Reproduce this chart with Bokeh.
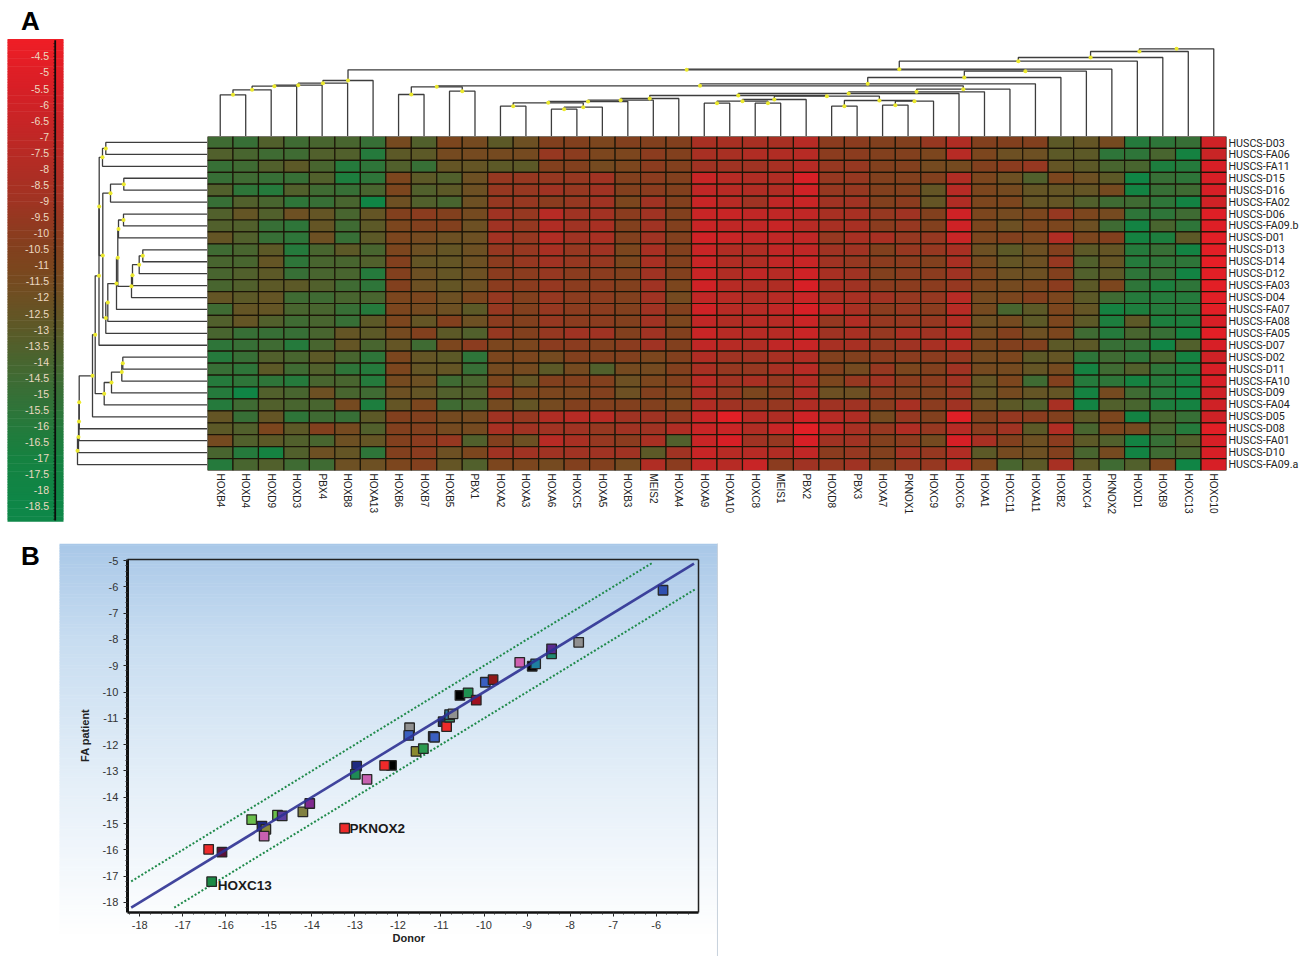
import math
import numpy as np
from bokeh.embed import file_html
from bokeh.resources import INLINE
from bokeh.layouts import row, column
from bokeh.plotting import figure
from bokeh.models import (ColumnDataSource, FactorRange, Range1d, LinearColorMapper, LinearAxis,
                          SingleIntervalTicker, FixedTicker)
from bokeh.core.properties import value
from bokeh.transform import transform

# ---------------------------------------------------------------- panel A data
genes = ["HOXB4","HOXD4","HOXD9","HOXD3","PBX4","HOXB8","HOXA13","HOXB6","HOXB7","HOXB5","PBX1","HOXA2","HOXA3",
         "HOXA6","HOXC5","HOXA5","HOXB3","MEIS2","HOXA4","HOXA9","HOXA10","HOXC8","MEIS1","PBX2","HOXD8","PBX3",
         "HOXA7","PKNOX1","HOXC9","HOXC6","HOXA1","HOXC11","HOXA11","HOXB2","HOXC4","PKNOX2","HOXD1","HOXB9",
         "HOXC13","HOXC10"]
samples = ["HUSCS-D03","HUSCS-FA06","HUSCS-FA11","HUSCS-D15","HUSCS-D16","HUSCS-FA02","HUSCS-D06","HUSCS-FA09.b",
           "HUSCS-D01","HUSCS-D13","HUSCS-D14","HUSCS-D12","HUSCS-FA03","HUSCS-D04","HUSCS-FA07","HUSCS-FA08",
           "HUSCS-FA05","HUSCS-D07","HUSCS-D02","HUSCS-D11","HUSCS-FA10","HUSCS-D09","HUSCS-FA04","HUSCS-D05",
           "HUSCS-D08","HUSCS-FA01","HUSCS-D10","HUSCS-FA09.a"]

D03 = [-14.5,-15,-13.5,-14.5,-14,-14,-15,-11.5,-13.5,-11,-11.5,-13,-12,-10.5,-10.5,-11,-10.5,-10.5,-10.5,-8.5,-8.5,-8.5,-8.5,-7.5,-10,-10,-10.5,-10.5,-9.5,-8,-10.5,-10.5,-10.5,-13,-12.5,-11.5,-16,-15.5,-15,-6]
FA06 = [-13.5,-14,-14.5,-14.5,-13.5,-13.5,-16,-13,-13,-11.5,-11.5,-11.5,-11.5,-9.5,-10,-11,-11,-10,-10.5,-8.5,-8.5,-8,-8,-7.5,-10,-10,-10.5,-10.5,-11,-7.5,-11,-12,-12,-13,-13,-15.5,-15.5,-14,-17,-6.5]
FA11 = [-15,-14.5,-13.5,-13,-14,-16,-15.5,-13.5,-15,-12.5,-12.5,-13,-13,-10.5,-10.5,-11.5,-11,-10,-10.5,-9,-9,-9,-8.5,-7.5,-9.5,-9.5,-10.5,-10.5,-11.5,-11.5,-10.5,-10,-9.5,-12.5,-13,-14,-14,-16.5,-16,-5.5]
D15 = [-15,-14.5,-15,-15,-13.5,-16.5,-15.5,-11,-13,-13.5,-12,-9.5,-9.5,-9.5,-9.5,-9,-10.5,-10,-10.5,-6.5,-7.5,-8,-8,-5.5,-9.5,-9.5,-10.5,-10.5,-10.5,-8,-11,-12,-13.5,-11,-12,-13,-18,-15,-15.5,-5.5]
D16 = [-13.5,-15.5,-16,-13.5,-14.5,-15,-14,-11,-13.5,-13,-12,-9.5,-9.5,-9,-9.5,-9,-10.5,-10,-10.5,-7,-7.5,-8,-8,-6,-9.5,-9.5,-10.5,-10.5,-12.5,-7.5,-11,-11.5,-12.5,-12.5,-12.5,-11.5,-17.5,-15,-14.5,-5.5]
FA02 = [-15,-13.5,-14,-15.5,-15,-14,-18,-12,-13.5,-14,-12,-9.5,-9.5,-10,-9.5,-9,-11,-9,-10.5,-6.5,-7.5,-9,-7,-6.5,-9,-9,-10.5,-10,-12.5,-8,-11,-11,-12.5,-12.5,-13.5,-14.5,-14.5,-15.5,-17.5,-6]
D06 = [-13.5,-12.5,-13.5,-12,-12.5,-14,-12.5,-10.5,-10,-10.5,-11.5,-9,-9.5,-7.5,-9,-8.8,-10,-9,-10.5,-6.5,-6.5,-7,-7,-7,-8.5,-8.5,-9.5,-9,-10.5,-6,-11,-11.5,-11,-9.5,-11,-11.5,-15.5,-15.5,-14.5,-5]
FA09b = [-13.5,-13.5,-15,-15.5,-12.5,-14.5,-13,-11,-10.5,-10.5,-12,-9,-9.5,-8,-9,-8.5,-10.5,-9,-10.5,-6.5,-7,-7,-6.5,-7.5,-8.5,-8.5,-10,-9.5,-10.5,-6,-11,-12,-11,-11,-12,-14.5,-17.5,-14,-15.5,-5]
D01 = [-12.5,-13.5,-15,-15.5,-12,-15,-13,-11,-11.5,-12,-12,-8.8,-9.5,-8,-9,-8.5,-10.5,-9,-10.5,-6,-6.5,-7,-7,-7,-9.5,-8.5,-8.5,-9.5,-9.5,-6.5,-11,-10.5,-11,-8,-11,-10.5,-17,-16.5,-13,-4.8]
D13 = [-14.5,-14,-13,-16,-14,-13,-14,-11,-12,-12.5,-12,-9.5,-9.5,-8.5,-9.5,-9,-11,-8.5,-10.5,-6.5,-8,-8,-7,-7,-9,-9,-10.5,-9.5,-9.5,-8.5,-12,-13,-12,-10.5,-13,-12.5,-16,-15,-17.5,-4.8]
D14 = [-14,-14,-12.5,-15.5,-14,-14,-13.5,-10.5,-12.5,-12.5,-12,-10,-9.5,-9,-9.5,-9.5,-11,-8.5,-10.5,-6.5,-8,-8,-7,-6.5,-9,-9.5,-10,-10,-10.5,-8.5,-11.5,-12.5,-12,-9.5,-13.5,-12.5,-16,-15.5,-15.5,-4.5]
D12 = [-14,-13.5,-13,-15,-14,-14,-16,-10.5,-12,-12.5,-12,-10,-10,-9.5,-10,-10,-10.5,-9,-10.5,-6.5,-8,-7,-7.5,-6,-8.5,-9,-10.5,-10,-10,-9,-11,-12,-12,-10.5,-13.5,-13,-15.5,-15,-17.5,-4.8]
FA03 = [-14,-13.5,-13,-13,-13.5,-14.5,-15.5,-10.5,-12,-12.5,-12,-10,-10,-9.5,-10,-10,-10.5,-9,-11,-6,-7.5,-8,-8,-5.5,-8.5,-9,-10,-10,-10,-9.5,-11,-11.5,-11,-10,-13,-11,-15.5,-16.5,-15.5,-4.8]
D04 = [-12.5,-13,-12.5,-14.5,-14.5,-14,-14,-11,-11,-12,-11,-9.5,-10.5,-9.5,-10,-10,-10.5,-9,-11.5,-7,-7.5,-8,-7.5,-6.5,-8.5,-8.5,-9,-9.5,-9.5,-7.5,-11.5,-11,-10.5,-11,-13,-14.5,-16,-16,-16,-4.8]
FA07 = [-14.5,-12.5,-12.5,-14,-14,-15,-16,-11,-11.5,-12,-13,-9.5,-10.5,-9.5,-10,-10,-10.5,-9,-10.5,-6,-7.5,-7.5,-7,-5.5,-7,-8.5,-10,-9.5,-10,-7.5,-11.5,-14,-13,-11,-12.5,-17,-16.5,-16,-16,-4.8]
FA08 = [-13.5,-12.5,-13.5,-14.5,-14,-15,-13,-11,-12.5,-10.5,-12,-10,-10.5,-9.5,-10,-10,-10.5,-9,-11,-7,-8,-7.5,-7.5,-6.5,-9.5,-8,-9.5,-9.5,-9.5,-8,-12,-11.5,-13,-11,-13,-16.5,-13,-16.5,-16.5,-5.5]
FA05 = [-14,-15,-15,-15,-14,-12.5,-13,-11.5,-10.5,-13,-13.5,-9.5,-10.5,-9.5,-9,-9,-10.5,-9,-10.5,-6.5,-7.5,-7.5,-7.5,-6.5,-9,-8.5,-9.5,-8.5,-9,-8,-11.5,-10.5,-12,-11,-14.5,-16,-14,-15,-17,-4.8]
D07 = [-15.5,-15,-14.5,-16,-14,-12.5,-14,-12.5,-14.5,-11,-10,-11,-11,-10,-10,-10.5,-10,-9,-10.5,-7,-7.5,-8,-7,-6.5,-8.5,-8.5,-9.5,-9,-8.5,-7.5,-11,-10.5,-10.5,-13,-13,-15,-15,-18,-13.5,-5.5]
D02 = [-16,-15,-13.5,-14,-13,-14,-15.5,-11,-12.5,-13,-15.5,-11,-11,-11.5,-10.5,-10.5,-10.5,-11,-10.5,-8,-9,-9,-8.5,-8,-10.5,-10.5,-10,-10,-10,-9.5,-11.5,-11,-13,-12.5,-15.5,-14.5,-15.5,-14,-17,-6]
D11 = [-15,-15.5,-13,-14.5,-13.5,-15.5,-16,-11,-12.5,-12.5,-15,-11.5,-11.5,-13,-11.5,-13.5,-11.5,-11.5,-10.5,-8.5,-9.5,-9.5,-8.5,-7.5,-10.5,-11.5,-9.5,-11,-10.5,-9,-11.5,-11.5,-12.5,-11.5,-17,-14.5,-13.5,-15.5,-16.5,-5.5]
FA10 = [-16,-15.5,-15.5,-16,-14,-14,-16,-11.5,-12,-14.5,-14,-11,-12.5,-10.5,-10.5,-10.5,-12,-11,-10.5,-7.5,-9,-8.5,-9.5,-8,-11,-9.5,-9,-10,-10,-9,-12.5,-11,-14.5,-10.5,-16,-15.5,-17,-16,-17,-5.5]
D09 = [-16,-18,-13.5,-14,-12,-14,-14.5,-12,-12.5,-13.5,-13.5,-9.5,-11,-11,-11,-10.5,-12,-10.5,-11,-8,-9.5,-11,-10,-8,-12,-12,-10,-10.5,-10.5,-9.5,-12.5,-11.5,-12.5,-12.5,-17,-11.5,-14.5,-16,-17.5,-6]
FA04 = [-16,-14.5,-13.5,-14,-14,-11.5,-16.5,-12.5,-11,-14.5,-14,-11.5,-12.5,-11.5,-10.5,-10.5,-10.5,-10.5,-11,-8,-9,-9.5,-9.5,-8,-9,-9,-10,-8.5,-10,-9,-12,-13,-13.5,-8.5,-17.5,-13.5,-14,-16.5,-17,-6]
D05 = [-12.5,-15,-12.5,-15.5,-14.5,-15,-13,-10.5,-10.5,-11.5,-11.5,-9,-9.5,-8,-7.5,-7.5,-9,-9,-9.5,-6.5,-4.8,-7.5,-8,-6,-7.5,-8,-11.5,-9.5,-10.5,-5,-10.5,-9.5,-10,-10.5,-13,-11,-17.5,-14,-15,-6]
D08 = [-13,-13.5,-11,-13,-10.5,-11.5,-13.5,-10.5,-10.5,-11.5,-11.5,-8.5,-9,-9,-9,-9.5,-9,-9,-8,-6.5,-6.5,-8,-6.5,-4.8,-7,-8.5,-9.5,-8,-9.5,-7.5,-10,-9,-13,-8,-14,-11,-11.5,-14,-16,-4.8]
FA01 = [-11.5,-13.5,-13,-13.5,-14,-12,-12.5,-10.5,-10,-9.5,-13.5,-10.5,-12,-7.5,-8.5,-9.5,-10,-8.5,-13.5,-6.5,-5.5,-9,-9.5,-5.5,-9,-9,-10.5,-10,-11.5,-5.5,-8.5,-10.5,-12,-10,-13,-13.5,-17.5,-15,-13.5,-5.5]
D10 = [-14,-16,-17,-13.5,-12,-12.5,-15.5,-10.5,-10,-12,-11,-9,-9,-9,-9,-9,-9,-13,-9,-6.5,-7.5,-7.5,-8,-7,-10,-9.5,-10.5,-9,-9.5,-8,-13,-11.5,-12,-10.5,-14,-11.5,-17.5,-14.5,-14,-5.5]
FA09a = [-16,-14,-13.5,-14.5,-14.5,-12,-12,-11,-10.5,-12.5,-13.5,-11,-11,-11.5,-10.5,-10.5,-11.5,-8,-10,-7,-7.5,-6.5,-10,-9,-9.5,-9,-10.5,-9.5,-9.5,-7.5,-11,-14,-13,-8.5,-13,-14.5,-13.5,-11,-18,-5.5]
expression_rows = [D03,FA06,FA11,D15,D16,FA02,D06,FA09b,D01,D13,D14,D12,FA03,D04,FA07,FA08,FA05,D07,D02,D11,FA10,D09,
                   FA04,D05,D08,FA01,D10,FA09a]

# colour key: value -> colour anchors
key_values = [-18.9,-18.5,-17,-16,-15,-14,-13,-12,-11,-10.5,-9,-7,-5.5,-4.0]
key_colours = [(14,135,72),(14,135,72),(22,130,65),(38,122,60),(55,112,55),(72,102,48),(92,90,40),(110,80,35),(125,70,30),
               (130,65,30),(160,52,35),(192,40,38),(215,32,38),(238,30,38)]
key_labels = [-4.5,-5,-5.5,-6,-6.5,-7,-7.5,-8,-8.5,-9,-9.5,-10,-10.5,-11,-11.5,-12,-12.5,-13,-13.5,-14,-14.5,-15,-15.5,
              -16,-16.5,-17,-17.5,-18,-18.5]

# dendrogram above the heat map: node, child, child, height
gene_tree = [("a1","L0","L1",41.7),("a2","a1","L2",46.7),("a3","a2","L3",50.3),("a4","a3","L4",51.3),("a5","a4","L5",53.3),
             ("a6","a5","L6",56),("b1","L7","L8",42),("b2","L9","L10",45.3),("b3","b1","b2",49.7),("c1","L11","L12",30.3),
             ("c2","L13","L14",27.3),("c3","c2","L15",29.3),("c4","c1","c3",33.7),("c5","c4","L16",35),("c6","c5","L17",36.3),
             ("c7","c6","L18",38),("d1","L19","L20",33.3),("d2","L21","L22",33.3),("d3","d1","d2",35.3),("d4","d3","L23",37),
             ("e1","L24","L25",30.3),("e2","L26","L27",31.3),("e3","e2","L28",35.3),("e4","e1","e3",36),("f1","d4","e4",40.3),
             ("g","c7","f1",41),("h1","g","L29",43),("h2","h1","L30",44.7),("h3","h2","L31",47.3),("i","b3","h3",50.7),
             ("j","i","L32",52.7),("k","j","L33",59),("l","k","L34",65.3),("m","a6","l",66.7),("n","m","L35",67.3),
             ("o","n","L36",75.3),("q","o","L37",79),("r","q","L38",85),("s","r","L39",87.7)]
# dendrogram left of the heat map
sample_tree = [("A1","L0","L1",101.7),("A2","A1","L2",105),("B1","L3","L4",83.7),("B2","B1","L5",97),("J","L6","L7",84),
               ("H","J","L8",89),("M","L9","L10",64.7),("Lx","M","L11",68.3),("K","Lx","L12",75),("I","K","L13",76),
               ("G","H","I",89.7),("F","G","L14",91),("E","F","L15",99.7),("D","E","L16",101.7),("C","B2","D",104.7),
               ("A3","A2","C",108.3),("N","A3","L17",108.5),("T","L18","L19",84.7),("S","T","L20",85.7),("Q","S","L21",96),
               ("P","Q","L22",103.3),("O","N","P",112.3),("U","O","L23",115),("V","U","L24",128.3),("W","V","L25",128.5),
               ("X","W","L26",129),("Y","X","L27",130)]

# ---------------------------------------------------------------- panel B data
donor = [-16.40,-16.09,-16.33,-15.40,-15.16,-15.07,-15.11,-14.80,-14.69,-14.21,-14.05,-13.24,-12.96,-12.99,-12.72,-12.15,
         -12.31,-11.73,-11.75,-11.58,-11.41,-11.18,-11.15,-10.95,-10.87,-10.80,-10.80,-10.72,-10.56,-10.37,-10.18,-9.97,
         -9.79,-9.17,-8.88,-8.80,-8.43,-8.43,-7.80,-5.84]
fa_patient = [-15.98,-16.09,-17.21,-14.85,-15.10,-15.22,-15.48,-14.68,-14.71,-14.56,-14.24,-15.18,-12.82,-13.13,-13.32,
              -12.79,-12.79,-11.36,-11.65,-12.26,-12.15,-11.69,-11.72,-11.13,-11.32,-10.96,-10.86,-10.83,-10.13,-10.03,
              -10.31,-9.63,-9.53,-8.87,-9.02,-8.93,-8.55,-8.36,-8.11,-6.13]
point_colours = ["#ee2a2a","#5b1238","#1b8a45","#6abf4b","#1f2a80","#8a8a3a","#c860b0","#6abf4b","#5b3ea0","#808040",
                 "#802a90","#ee2a2a","#1f2a80","#1f8a55","#c860b0","#000000","#ee2a2a","#909090","#3a5fc0","#8a8a30",
                 "#2a9a50","#202080","#3a5fc0","#202a6a","#ee2a2a","#3a8a60","#2a7a9a","#909090","#000000","#1f9050",
                 "#a01020","#3a5fc0","#901818","#d060b0","#000000","#1f80a0","#208a70","#5a2a90","#909090","#3050b0"]
fit_x = [-18.2,-5.12]
fit_y = [-18.2,-5.12]
upper_x = [-18.2,-6.1]
upper_y = [-17.2,-5.1]
lower_x = [-17.2,-5.1]
lower_y = [-18.2,-6.1]
named_x = [-16.33,-13.24]
named_y = [-17.21,-15.18]
named_text = ["HOXC13","PKNOX2"]
x_ticks = [-18,-17,-16,-15,-14,-13,-12,-11,-10,-9,-8,-7,-6]
y_ticks = [-5,-6,-7,-8,-9,-10,-11,-12,-13,-14,-15,-16,-17,-18]

# ---------------------------------------------------------------- helpers
FONT = "Liberation Sans"
LINE = "#3d3d3d"
DOT = "#ece92e"

def lerp_palette(n=256):
    lo, hi = key_values[0], key_values[-1]
    vals = np.linspace(lo, hi, n)
    out = []
    for v in vals:
        r = np.interp(v, key_values, [c[0] for c in key_colours])
        g = np.interp(v, key_values, [c[1] for c in key_colours])
        b = np.interp(v, key_values, [c[2] for c in key_colours])
        out.append("#%02x%02x%02x" % (int(r), int(g), int(b)))
    return out

mapper = LinearColorMapper(palette=lerp_palette(), low=key_values[0], high=key_values[-1])

def tree_layout(tree):
    """node position = midpoint of its children; returns elbow segments and node marks."""
    pos = {}
    h = {}
    xs, ys, dx, dy = [], [], [], []
    def get(name):
        if name[0] == "L" and name[1:].isdigit():
            return int(name[1:]) + 0.5, 0.0
        return pos[name], h[name]
    for name, a, b, height in tree:
        pa, ha = get(a)
        pb, hb = get(b)
        xs.append([pa, pa, pb, pb])
        ys.append([ha, height, height, hb])
        pos[name] = (pa + pb) / 2
        h[name] = height
        dx.append(pos[name])
        dy.append(height)
    return xs, ys, dx, dy

def base_fig(**kw):
    f = figure(output_backend="svg", toolbar_location=None, x_axis_type=None, y_axis_type=None,
               min_border_left=0, min_border_right=0, min_border_top=0, min_border_bottom=0, **kw)
    f.outline_line_color = None
    f.background_fill_color = None
    f.border_fill_color = None
    return f

# ---------------------------------------------------------------- colour key
CB_TOP, CB_BOTTOM = -4.0, -18.94
cb = base_fig(width=70, height=530, x_range=Range1d(-7, 63), y_range=Range1d(-19.25, -2.76))
levels = np.arange(CB_BOTTOM, CB_TOP + 0.02, 0.05)
cb.hbar(y=levels, height=0.07, left=0, right=56,
        fill_color=transform("y", mapper), line_color=None)
cb.segment(x0=47.7, x1=47.7, y0=CB_BOTTOM, y1=CB_TOP, line_color="#0c0c0c", line_width=1.8)
tick_levels = np.arange(-18.9, -4.0, 0.1)
cb.segment(x0=45.5, x1=47.5, y0=tick_levels, y1=tick_levels, line_color="#000000", line_alpha=0.35, line_width=1)
cb.text(x=[41.5] * len(key_labels), y=key_labels, text=[("%g" % v) for v in key_labels], text_align="right",
        text_baseline="middle", text_color="#ecd9c0", text_font=value(FONT), text_font_size="10.5px")
cb.text(x=[23], y=[-3.40], text=["A"], text_align="center", text_baseline="middle", text_font=value(FONT),
        text_font_style="bold", text_font_size="26px", text_color="#000000")

# ---------------------------------------------------------------- left dendrogram
ld = base_fig(width=137, height=530, x_range=Range1d(137, 0), y_range=Range1d(33.03, -11.4))
sy, sh, dy_, dh_ = tree_layout(sample_tree)
ld.multi_line(xs=sh, ys=sy, line_color=LINE, line_width=1.3)
ld.scatter(x=dh_, y=dy_, marker="circle", size=4, fill_color=DOT, line_color=None)

# ---------------------------------------------------------------- top dendrogram
td = base_fig(width=1102, height=136, x_range=Range1d(0, 40), y_range=Range1d(0, 136))
td.min_border_right = 83
gx, gy, gdx, gdy = tree_layout(gene_tree)
td.multi_line(xs=gx, ys=gy, line_color=LINE, line_width=1.3)
td.scatter(x=gdx, y=gdy, marker="circle", size=4, fill_color=DOT, line_color=None)

# ---------------------------------------------------------------- heat map
cells = ColumnDataSource(dict(
    gene=[g for _ in samples for g in genes],
    sample=[s for s in samples for _ in genes],
    val=[v for r in expression_rows for v in r],
))
hm = figure(output_backend="svg", toolbar_location=None, frame_width=1019, frame_height=334,
            x_range=FactorRange(factors=genes), y_range=FactorRange(factors=samples[::-1]),
            x_axis_location="below", y_axis_location="right",
            min_border_left=0, min_border_right=83, min_border_top=0, min_border_bottom=60)
hm.rect(x="gene", y="sample", width=1, height=1, source=cells, fill_color=transform("val", mapper),
        line_color="#1c1608", line_width=1.2)
hm.grid.visible = False
hm.outline_line_color = None
hm.border_fill_color = None
for ax in (hm.xaxis[0], hm.yaxis[0]):
    ax.axis_line_color = None
    ax.major_tick_line_color = None
    ax.minor_tick_line_color = None
    ax.major_tick_out = 0
    ax.major_tick_in = 0
    ax.minor_tick_out = 0
    ax.major_label_text_font = FONT
    ax.major_label_text_color = "#222222"
hm.xaxis[0].major_label_orientation = -math.pi / 2
hm.xaxis[0].major_label_text_font_size = "10px"
hm.xaxis[0].major_label_standoff = 3
hm.yaxis[0].major_label_text_font = "Roboto"
hm.yaxis[0].major_label_text_font_size = "10.7px"
hm.yaxis[0].major_label_standoff = 2

top = row(cb, ld, column(td, hm))

# ---------------------------------------------------------------- panel B
XL, XR, YB, YT = -18.29, -5.02, -18.38, -4.96
PANEL_L, PANEL_R, PANEL_T = -19.866, -4.575, -4.354
sc = base_fig(width=718, height=426, x_range=Range1d(-21.237, -4.551), y_range=Range1d(-20.057, -3.859))

bg_levels = np.arange(-20.06, PANEL_T, 0.06)
bg_stops_y = [-20.06, -19.2, -13.7, -8.0, PANEL_T]
bg_stops_r = [255, 255, 230, 200, 169]
bg_stops_g = [255, 255, 240, 221, 200]
bg_stops_b = [255, 255, 249, 241, 232]
bg_cols = ["#%02x%02x%02x" % (int(np.interp(v, bg_stops_y, bg_stops_r)), int(np.interp(v, bg_stops_y, bg_stops_g)),
                              int(np.interp(v, bg_stops_y, bg_stops_b))) for v in bg_levels]
sc.hbar(y=bg_levels, height=0.08, left=PANEL_L, right=PANEL_R, fill_color=bg_cols, line_color=None)
sc.segment(x0=PANEL_R, x1=PANEL_R, y0=-20.06, y1=PANEL_T, line_color="#c7d2dc", line_width=1)

sc.line(upper_x, upper_y, line_color="#1f8a4a", line_width=2, line_dash="2 2")
sc.line(lower_x, lower_y, line_color="#1f8a4a", line_width=2, line_dash="2 2")
sc.scatter(donor, fa_patient, marker="square", size=9.5, fill_color=point_colours, line_color="#262626", line_width=1.3)
sc.line(fit_x, fit_y, line_color="#2e3192", line_alpha=0.9, line_width=2.6)
sc.text(x=named_x, y=named_y, text=named_text, x_offset=[6, 5], y_offset=[4, 0], text_align="left",
        text_baseline="middle", text_font=value(FONT), text_font_style="bold", text_font_size="13.5px",
        text_color="#1a1a1a")

def axis_common(a):
    a.axis_line_color = "#111111"
    a.major_tick_line_color = "#222222"
    a.minor_tick_line_color = "#333333"
    a.major_tick_in = 0
    a.major_tick_out = 4
    a.minor_tick_in = 0
    a.minor_tick_out = 2
    a.major_label_text_font = FONT
    a.major_label_text_font_size = "11px"
    a.major_label_text_color = "#333333"

bottom = LinearAxis(fixed_location=YB, bounds=(XL, XR), ticker=SingleIntervalTicker(interval=1, num_minor_ticks=4),
                    major_label_overrides={v: str(v) for v in x_ticks})
axis_common(bottom)
bottom.axis_line_width = 2.5
sc.add_layout(bottom, "below")
left = LinearAxis(fixed_location=XL, bounds=(YB, YT), ticker=SingleIntervalTicker(interval=1, num_minor_ticks=5),
                  major_label_overrides={v: str(v) for v in y_ticks})
axis_common(left)
left.axis_line_width = 3
sc.add_layout(left, "left")
for loc, bnds, side in ((YT, (XL, XR), "above"), (XR, (YB, YT), "right")):
    a = LinearAxis(fixed_location=loc, bounds=bnds, ticker=FixedTicker(ticks=[]))
    a.axis_line_color = "#222222"
    a.axis_line_width = 1.5
    sc.add_layout(a, side)

sc.text(x=[-20.54], y=[-4.81], text=["B"], text_align="center", text_baseline="middle", text_font=value(FONT),
        text_font_style="bold", text_font_size="26px", text_color="#000000")
sc.text(x=[-19.28], y=[-11.65], text=["FA patient"], angle=math.pi / 2, text_align="center", text_baseline="middle",
        text_font=value(FONT), text_font_style="bold", text_font_size="11px", text_color="#222222")
sc.text(x=[-11.75], y=[-19.37], text=["Donor"], text_align="center", text_baseline="middle",
        text_font=value(FONT), text_font_style="bold", text_font_size="11px", text_color="#222222")

page = column(top, sc)
open("out.html", "w").write(file_html(page, INLINE))
